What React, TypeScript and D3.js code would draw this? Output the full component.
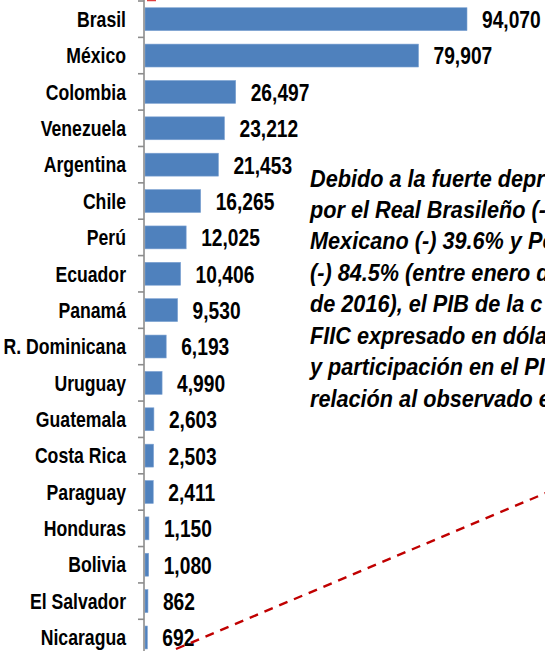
import React, { useEffect, useRef } from 'react'
import * as d3 from 'd3'

// PIB de la construcción, millones de US$
const countries = [
  'Brasil', 'México', 'Colombia', 'Venezuela', 'Argentina', 'Chile', 'Perú',
  'Ecuador', 'Panamá', 'R. Dominicana', 'Uruguay', 'Guatemala', 'Costa Rica',
  'Paraguay', 'Honduras', 'Bolivia', 'El Salvador', 'Nicaragua',
]
const values = [
  94070, 79907, 26497, 23212, 21453, 16265, 12025, 10406, 9530, 6193, 4990,
  2603, 2503, 2411, 1150, 1080, 862, 692,
]
// the note is cut by the right edge of the picture
const noteLines = [
  'Debido a la fuerte depr',
  'por el Real Brasileño (-',
  'Mexicano (-) 39.6% y Pe',
  '(-) 84.5% (entre enero d',
  'de 2016),  el PIB de la c',
  'FIIC expresado en dóla',
  'y participación en el PI',
  'relación al observado e',
]

const W = 545
const H = 651
const FONT = "'Liberation Sans', Arial, sans-serif"

// squeeze text horizontally to mimic a narrow face
function condense(sel: d3.Selection<SVGTextElement, any, any, any>, k: number) {
  sel.each(function () {
    const w = this.getComputedTextLength()
    d3.select(this)
      .attr('textLength', w * k)
      .attr('lengthAdjust', 'spacingAndGlyphs')
  })
}

export default function App() {
  const ref = useRef<SVGSVGElement>(null)

  useEffect(() => {
    const svg = d3.select(ref.current)
    svg.selectAll('*').remove()

    const axisX = 144
    const x = d3.scaleLinear().domain([0, 94070]).range([axisX + 1, 467])
    const y = d3.scaleBand<string>().domain(countries).range([1, 1 + 18 * 36.37]).paddingInner(0.37).paddingOuter(0.185)
    const data = countries.map((c, i) => ({ c, v: values[i] }))

    // bars
    svg.append('g').selectAll('rect').data(data).enter().append('rect')
      .attr('x', x(0))
      .attr('y', d => y(d.c)!)
      .attr('width', d => x(d.v) - x(0))
      .attr('height', y.bandwidth())
      .attr('fill', '#4f81bd')
      .attr('stroke', '#7ea3d3')
      .attr('stroke-width', 0.6)

    // axis with ticks at the band edges
    const ax = svg.append('g')
    ax.append('line')
      .attr('x1', axisX).attr('x2', axisX)
      .attr('y1', 0).attr('y2', H)
      .attr('stroke', '#8c8c8c').attr('stroke-width', 1.6)
    const edges = d3.range(countries.length + 1).map(i => 1 + i * y.step())
    ax.selectAll('line.tick').data(edges).enter().append('line')
      .attr('class', 'tick')
      .attr('x1', axisX - 6).attr('x2', axisX)
      .attr('y1', d => d).attr('y2', d => d)
      .attr('stroke', '#8c8c8c').attr('stroke-width', 1.6)

    // category labels
    const cats = svg.append('g').selectAll('text').data(data).enter().append('text')
      .attr('x', 126)
      .attr('y', d => y(d.c)! + y.bandwidth() / 2)
      .attr('dy', '0.36em')
      .attr('text-anchor', 'end')
      .attr('font-family', FONT)
      .attr('font-weight', 'bold')
      .attr('font-size', 21.5)
      .attr('fill', '#000')
      .text(d => d.c)
    condense(cats, 0.82)

    // value labels
    const fmt = d3.format(',')
    const vals = svg.append('g').selectAll('text').data(data).enter().append('text')
      .attr('y', d => y(d.c)! + y.bandwidth() / 2)
      .attr('dy', '0.37em')
      .attr('font-family', FONT)
      .attr('font-weight', 'bold')
      .attr('font-size', 24)
      .attr('fill', '#000')
      .text(d => fmt(d.v))
    condense(vals, 0.8)
    vals.attr('x', function (d) {
      const w = +(this as SVGTextElement).getAttribute('textLength')!
      return Math.min(x(d.v) + 15, W - 1 - w)
    })

    // red dashed guide
    svg.append('line')
      .attr('x1', 176).attr('y1', 649)
      .attr('x2', 560).attr('y2', 487)
      .attr('stroke', '#c00000')
      .attr('stroke-width', 2.4)
      .attr('stroke-dasharray', '9,7')
    svg.append('line')
      .attr('x1', 147).attr('y1', 0.5)
      .attr('x2', 156).attr('y2', 0.5)
      .attr('stroke', '#e04040')
      .attr('stroke-width', 1.5)

    // note
    const note = svg.append('g').selectAll('text').data(noteLines).enter().append('text')
      .attr('x', 310)
      .attr('y', (_d, i) => 186.5 + i * 31.45)
      .attr('font-family', FONT)
      .attr('font-weight', 'bold')
      .attr('font-style', 'italic')
      .attr('font-size', 23.3)
      .attr('fill', '#000')
      .text(d => d)
    condense(note, 0.93)
  }, [])

  return (
    <svg ref={ref} width={W} height={H}
      style={{ position: 'absolute', left: 0, top: 0, background: '#fff' }} />
  )
}
